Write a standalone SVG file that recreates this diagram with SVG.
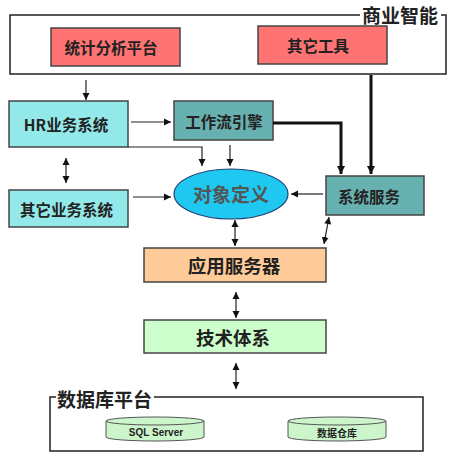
<svg xmlns="http://www.w3.org/2000/svg" width="453" height="460" viewBox="0 0 453 460">
<defs>
<marker id="ah" markerWidth="8" markerHeight="8" refX="7" refY="4" orient="auto" markerUnits="userSpaceOnUse">
<path d="M0,0.5 L7,4 L0,7.5 Z" fill="#111"/>
</marker>
<marker id="ahs" markerWidth="8" markerHeight="8" refX="0" refY="4" orient="auto" markerUnits="userSpaceOnUse">
<path d="M7,0.5 L0,4 L7,7.5 Z" fill="#111"/>
</marker>
<marker id="ahb" markerWidth="9" markerHeight="9" refX="8" refY="4.5" orient="auto" markerUnits="userSpaceOnUse">
<path d="M0,0.5 L8,4.5 L0,8.5 Z" fill="#111"/>
</marker>
</defs>
<style>
text{font-family:"Noto Sans CJK SC","Liberation Sans",sans-serif;font-weight:bold;text-anchor:middle;dominant-baseline:central;fill:#222}
.box{stroke:#444;stroke-width:1.5}
.frame{fill:none;stroke:#222;stroke-width:1.5}
.red{fill:#FF7373}
.cyan{fill:#93E9E9}
.teal{fill:#68B1B1}
.orange{fill:#FFCC99}
.green{fill:#CCFFCC}
.cyl{fill:#CCF5CC;stroke:#555;stroke-width:1}
.ln{fill:none;stroke:#222;stroke-width:1.2}
.thick{fill:none;stroke:#111;stroke-width:3}
.lbl{font-size:19px}
.t{font-size:15.5px}
.tb{font-size:18.5px}
</style>
<rect width="453" height="460" fill="#fff"/>

<g id="bi-frame">
<path class="frame" d="M360,15 L10,15 L10,74 L446,74 L446,15 L441,15"/>
<text class="lbl" x="400" y="14">商业智能</text>
</g>
<g id="stat">
<rect class="box red" x="51" y="28" width="129" height="38"/>
<text class="t" x="111" y="47">统计分析平台</text>
</g>
<g id="tools">
<rect class="box red" x="258" y="26" width="129" height="38"/>
<text class="t" x="318" y="45">其它工具</text>
</g>
<g id="hr">
<rect class="box cyan" x="9" y="101" width="119" height="46"/>
<text class="t" x="66" y="124">HR业务系统</text>
</g>
<g id="workflow">
<rect class="box teal" x="174" y="101" width="99" height="39"/>
<text class="t" x="224" y="120.5">工作流引擎</text>
</g>
<g id="other">
<rect class="box cyan" x="9" y="190" width="119" height="37"/>
<text class="t" x="66.5" y="208.5">其它业务系统</text>
</g>
<g id="object">
<ellipse cx="231" cy="194" rx="57" ry="25" fill="#1EC8F0" stroke="#224477" stroke-width="1.2"/>
<text x="231" y="193" style="font-size:19px;fill:#555">对象定义</text>
</g>
<g id="sysservice">
<rect class="box teal" x="326" y="176" width="98" height="39"/>
<text class="t" x="369" y="195.5">系统服务</text>
</g>
<g id="appserver">
<rect class="box orange" x="144" y="248" width="182" height="34"/>
<text class="tb" x="234" y="265">应用服务器</text>
</g>
<g id="tech">
<rect class="box green" x="144" y="320" width="182" height="33"/>
<text class="tb" x="233" y="336.5">技术体系</text>
</g>
<g id="db-frame">
<path class="frame" d="M56,397 L50,397 L50,451 L423,451 L423,397 L154,397"/>
<text class="lbl" x="104.5" y="398">数据库平台</text>
</g>
<g id="sqlserver">
<path class="cyl" d="M106,421 L106,437 A49,4 0 0 0 204,437 L204,421"/>
<ellipse class="cyl" cx="155" cy="421" rx="49" ry="4"/>
<text x="156" y="432" style="font-size:10px;font-family:'Liberation Sans',sans-serif">SQL  Server</text>
</g>
<g id="dw">
<path class="cyl" d="M288,421 L288,437 A49,4 0 0 0 386,437 L386,421"/>
<ellipse class="cyl" cx="337" cy="421" rx="49" ry="4"/>
<text x="337" y="432" style="font-size:10px">数据仓库</text>
</g>

<g id="connectors">
<line class="ln" x1="86" y1="80" x2="86" y2="100" marker-end="url(#ah)"/>
<line class="thick" x1="371" y1="75" x2="371" y2="174" marker-end="url(#ahb)"/>
<line class="ln" x1="131" y1="122" x2="171" y2="122" marker-end="url(#ah)"/>
<path class="ln" d="M128,147 L202,147 L202,166" marker-end="url(#ah)"/>
<line class="ln" x1="230" y1="145" x2="230" y2="166" marker-end="url(#ah)"/>
<path class="thick" d="M273,123 L341,123 L341,174" marker-end="url(#ahb)"/>
<line class="ln" x1="323" y1="194" x2="291" y2="194" marker-end="url(#ah)"/>
<line class="ln" x1="133" y1="197" x2="171" y2="197" marker-end="url(#ah)"/>
<line class="ln" x1="66" y1="158" x2="66" y2="183" marker-start="url(#ahs)" marker-end="url(#ah)"/>
<line class="ln" x1="235" y1="220" x2="235" y2="246" marker-start="url(#ahs)" marker-end="url(#ah)"/>
<line class="ln" x1="329" y1="217" x2="324" y2="244" marker-start="url(#ahs)" marker-end="url(#ah)"/>
<line class="ln" x1="236" y1="292" x2="236" y2="318" marker-start="url(#ahs)" marker-end="url(#ah)"/>
<line class="ln" x1="236" y1="363" x2="236" y2="389" marker-start="url(#ahs)" marker-end="url(#ah)"/>
</g>
</svg>
